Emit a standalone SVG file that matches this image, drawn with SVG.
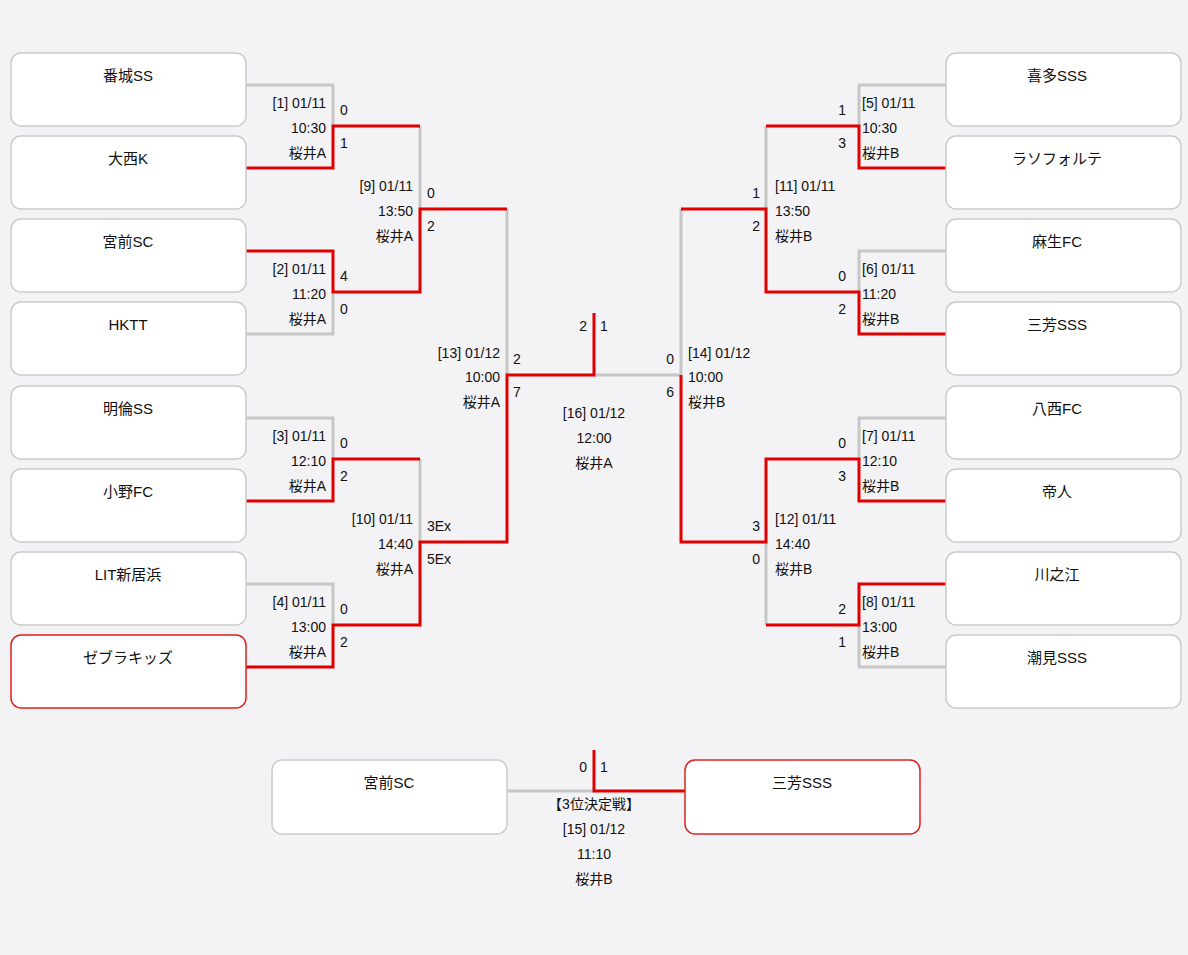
<svg xmlns="http://www.w3.org/2000/svg" width="1188" height="955" viewBox="0 0 1188 955">
<style>
text{font-family:"Liberation Sans","Noto Sans CJK JP",sans-serif;font-size:14px;fill:#111}
.t{font-size:15px;text-anchor:middle}
.r{text-anchor:end}.m{text-anchor:middle}
.box{fill:#fff;stroke:#ccc;stroke-width:1.5}
.win{fill:#fff;stroke:#e02020;stroke-width:1.5}
.g{fill:none;stroke:#c6c6c6;stroke-width:3}
.rd{fill:none;stroke:#e00000;stroke-width:3}
</style>
<rect width="1188" height="955" fill="#f3f2f4"/>
<g id="connectors">
<path class="g" d="M246,85H333V126M246,334H333V292M420,126V209M246,418H333V459M246,584H333V625M420,459V542M507,209V375M594,375H681M946,85H859V126M946,251H859V292M766,126V209M946,418H859V459M946,667H859V625M766,625V542M681,209V375M507,791H594"/>
<path class="rd" d="M246,168H333V126H420M246,251H333V292H420V209H507M246,501H333V459H420M246,667H333V625H420V542H507V375H594V313M946,168H859V126H766M946,334H859V292H766V209H681M946,501H859V459H766V542H681V375M946,584H859V625H766M594,750V791H685"/>
</g>
<g id="n1"><rect class="box" x="11" y="53" width="235" height="73" rx="10"/><text class="t" x="128" y="81">番城SS</text></g>
<g id="n2"><rect class="box" x="11" y="136" width="235" height="73" rx="10"/><text class="t" x="128" y="164">大西K</text></g>
<g id="n3"><rect class="box" x="11" y="219" width="235" height="73" rx="10"/><text class="t" x="128" y="247">宮前SC</text></g>
<g id="n4"><rect class="box" x="11" y="302" width="235" height="73" rx="10"/><text class="t" x="128" y="330">HKTT</text></g>
<g id="n5"><rect class="box" x="11" y="386" width="235" height="73" rx="10"/><text class="t" x="128" y="414">明倫SS</text></g>
<g id="n6"><rect class="box" x="11" y="469" width="235" height="73" rx="10"/><text class="t" x="128" y="497">小野FC</text></g>
<g id="n7"><rect class="box" x="11" y="552" width="235" height="73" rx="10"/><text class="t" x="128" y="580">LIT新居浜</text></g>
<g id="n8"><rect class="win" x="11" y="635" width="235" height="73" rx="10"/><text class="t" x="128" y="663">ゼブラキッズ</text></g>
<g id="n9"><rect class="box" x="946" y="53" width="235" height="73" rx="10"/><text class="t" x="1057" y="81">喜多SSS</text></g>
<g id="n10"><rect class="box" x="946" y="136" width="235" height="73" rx="10"/><text class="t" x="1057" y="164">ラソフォルテ</text></g>
<g id="n11"><rect class="box" x="946" y="219" width="235" height="73" rx="10"/><text class="t" x="1057" y="247">麻生FC</text></g>
<g id="n12"><rect class="box" x="946" y="302" width="235" height="73" rx="10"/><text class="t" x="1057" y="330">三芳SSS</text></g>
<g id="n13"><rect class="box" x="946" y="386" width="235" height="73" rx="10"/><text class="t" x="1057" y="414">八西FC</text></g>
<g id="n14"><rect class="box" x="946" y="469" width="235" height="73" rx="10"/><text class="t" x="1057" y="497">帝人</text></g>
<g id="n15"><rect class="box" x="946" y="552" width="235" height="73" rx="10"/><text class="t" x="1057" y="580">川之江</text></g>
<g id="n16"><rect class="box" x="946" y="635" width="235" height="73" rx="10"/><text class="t" x="1057" y="663">潮見SSS</text></g>
<g id="n17"><rect class="box" x="272" y="760" width="235" height="74" rx="10"/><text class="t" x="389" y="788">宮前SC</text></g>
<g id="n18"><rect class="win" x="685" y="760" width="235" height="74" rx="10"/><text class="t" x="802" y="788">三芳SSS</text></g>
<g id="labels">
<text class="r" x="326" y="108">[1] 01/11</text><text class="r" x="326" y="133">10:30</text><text class="r" x="326" y="158">桜井A</text><text x="340" y="115">0</text><text x="340" y="148">1</text>
<text class="r" x="326" y="274">[2] 01/11</text><text class="r" x="326" y="299">11:20</text><text class="r" x="326" y="324">桜井A</text><text x="340" y="281">4</text><text x="340" y="314">0</text>
<text class="r" x="326" y="441">[3] 01/11</text><text class="r" x="326" y="466">12:10</text><text class="r" x="326" y="491">桜井A</text><text x="340" y="448">0</text><text x="340" y="481">2</text>
<text class="r" x="326" y="607">[4] 01/11</text><text class="r" x="326" y="632">13:00</text><text class="r" x="326" y="657">桜井A</text><text x="340" y="614">0</text><text x="340" y="647">2</text>
<text class="r" x="413" y="191">[9] 01/11</text><text class="r" x="413" y="216">13:50</text><text class="r" x="413" y="241">桜井A</text><text x="427" y="198">0</text><text x="427" y="231">2</text>
<text class="r" x="413" y="524">[10] 01/11</text><text class="r" x="413" y="549">14:40</text><text class="r" x="413" y="574">桜井A</text><text x="427" y="531">3Ex</text><text x="427" y="564">5Ex</text>
<text class="r" x="500" y="358">[13] 01/12</text><text class="r" x="500" y="382">10:00</text><text class="r" x="500" y="407">桜井A</text><text x="513" y="364">2</text><text x="513" y="397">7</text>
<text class="r" x="587" y="331">2</text><text x="600" y="331">1</text>
<text class="m" x="594" y="418">[16] 01/12</text><text class="m" x="594" y="443">12:00</text><text class="m" x="594" y="468">桜井A</text>
<text x="688" y="358">[14] 01/12</text><text x="688" y="382">10:00</text><text x="688" y="407">桜井B</text><text class="r" x="674" y="364">0</text><text class="r" x="674" y="397">6</text>
<text x="775" y="191">[11] 01/11</text><text x="775" y="216">13:50</text><text x="775" y="241">桜井B</text><text class="r" x="760" y="198">1</text><text class="r" x="760" y="231">2</text>
<text x="775" y="524">[12] 01/11</text><text x="775" y="549">14:40</text><text x="775" y="574">桜井B</text><text class="r" x="760" y="531">3</text><text class="r" x="760" y="564">0</text>
<text x="862" y="108">[5] 01/11</text><text x="862" y="133">10:30</text><text x="862" y="158">桜井B</text><text class="r" x="846" y="115">1</text><text class="r" x="846" y="148">3</text>
<text x="862" y="274">[6] 01/11</text><text x="862" y="299">11:20</text><text x="862" y="324">桜井B</text><text class="r" x="846" y="281">0</text><text class="r" x="846" y="314">2</text>
<text x="862" y="441">[7] 01/11</text><text x="862" y="466">12:10</text><text x="862" y="491">桜井B</text><text class="r" x="846" y="448">0</text><text class="r" x="846" y="481">3</text>
<text x="862" y="607">[8] 01/11</text><text x="862" y="632">13:00</text><text x="862" y="657">桜井B</text><text class="r" x="846" y="614">2</text><text class="r" x="846" y="647">1</text>
<text class="r" x="587" y="772">0</text><text x="600" y="772">1</text>
<text class="m" x="594" y="809">【3位決定戦】</text><text class="m" x="594" y="834">[15] 01/12</text><text class="m" x="594" y="859">11:10</text><text class="m" x="594" y="884">桜井B</text>
</g>
</svg>
